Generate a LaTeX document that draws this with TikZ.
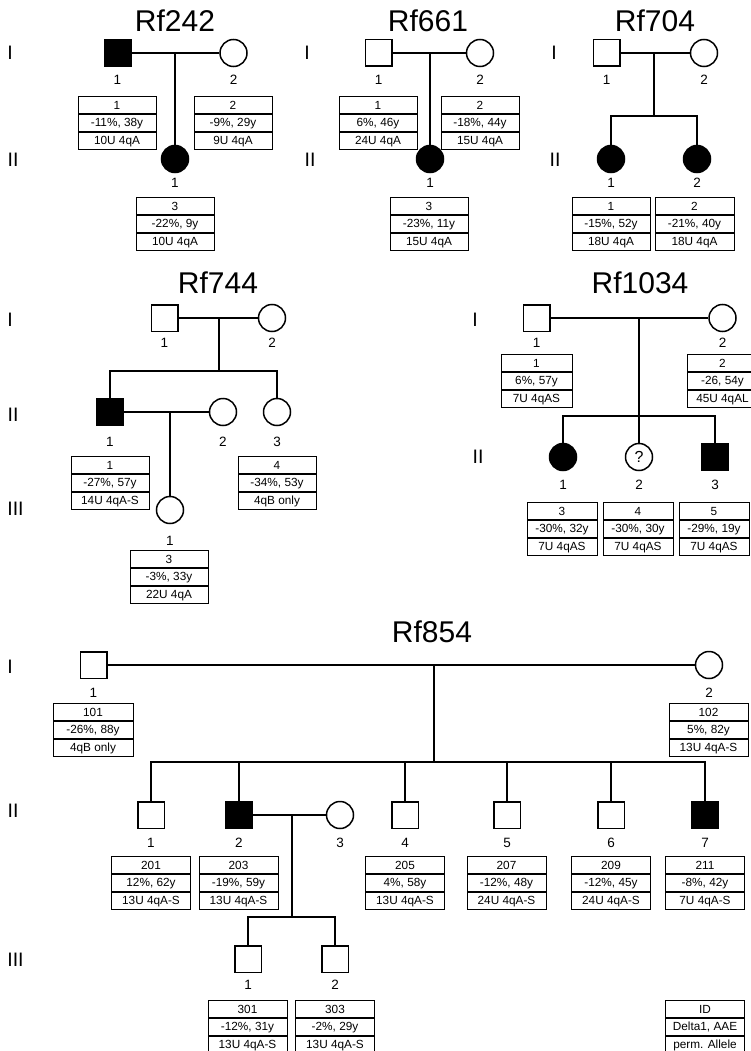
\documentclass[tikz,border=0pt]{standalone}
\usepackage{fontspec}
\setmainfont{Liberation Sans}
\newcommand{\infotab}[7]{%
  \node[tabcell, minimum width=#4pt, anchor=north] (#1a) at (#2,#3) {#5};
  \node[tabcell, minimum width=#4pt, anchor=north] (#1b) at (#1a.south) {#6};
  \node[tabcell, minimum width=#4pt, anchor=north] (#1c) at (#1b.south) {#7};}
\tikzset{
  male/.style={draw, rectangle, minimum size=26.5pt, inner sep=0pt, line width=1.5pt, fill=white},
  female/.style={draw, circle, minimum size=27pt, inner sep=0pt, line width=1.5pt, fill=white},
  aff/.style={fill=black},
  link/.style={line width=1.7pt},
  tabcell/.style={draw, line width=0.9pt, inner sep=0pt, minimum height=17.2pt, font=\fontsize{11.8}{13}\selectfont},
  title/.style={font=\fontsize{30}{34}\selectfont},
  gen/.style={font=\fontsize{19.5}{22}\selectfont},
  num/.style={font=\fontsize{13.5}{15}\selectfont},
}
\begin{document}
\begin{tikzpicture}[x=1pt,y=-1pt]
\useasboundingbox (0,0) rectangle (750,1051);
\fill[white] (0,0) rectangle (750,1051);

%% ---------------- Rf242 ----------------
\node[title] (t242) at (175,21) {Rf242};
\node[gen] (g242a) at (10,53) {I};
\node[gen] (g242b) at (13,160) {II};
\node[male, aff] (p242a) at (117.5,53) {};
\node[female] (p242b) at (233.5,53) {};
\node[female, aff] (p242c) at (175,159) {};
\coordinate (m242) at (175,53);
\draw[link] (p242a.east) -- (p242b.west);
\draw[link] (m242) -- (p242c.north);
\node[num] (n242a) at (117.5,80) {1};
\node[num] (n242b) at (233.5,80) {2};
\node[num] (n242c) at (175,183) {1};
\infotab{k242a}{117}{96}{78}{1}{-11\%, 38y}{10U 4qA}
\infotab{k242b}{233}{96}{78}{2}{-9\%, 29y}{9U 4qA}
\infotab{k242c}{175}{197}{78}{3}{-22\%, 9y}{10U 4qA}

%% ---------------- Rf661 ----------------
\node[title] (t661) at (428,21) {Rf661};
\node[gen] (g661a) at (307,53) {I};
\node[gen] (g661b) at (310,160) {II};
\node[male] (p661a) at (378.5,53) {};
\node[female] (p661b) at (480,53) {};
\node[female, aff] (p661c) at (430,159) {};
\coordinate (m661) at (430,53);
\draw[link] (p661a.east) -- (p661b.west);
\draw[link] (m661) -- (p661c.north);
\node[num] (n661a) at (378.5,80) {1};
\node[num] (n661b) at (480,80) {2};
\node[num] (n661c) at (430,183) {1};
\infotab{k661a}{378}{96}{78}{1}{6\%, 46y}{24U 4qA}
\infotab{k661b}{480}{96}{78}{2}{-18\%, 44y}{15U 4qA}
\infotab{k661c}{429}{197}{78}{3}{-23\%, 11y}{15U 4qA}

%% ---------------- Rf704 ----------------
\node[title] (t704) at (655,21) {Rf704};
\node[gen] (g704a) at (554,53) {I};
\node[gen] (g704b) at (555,160) {II};
\node[male] (p704a) at (606.5,53) {};
\node[female] (p704b) at (704,53) {};
\node[female, aff] (p704c) at (611,159) {};
\node[female, aff] (p704d) at (697,159) {};
\coordinate (m704) at (654,53);
\coordinate (s704) at (654,116);
\draw[link] (p704a.east) -- (p704b.west);
\draw[link] (m704) -- (s704);
\draw[link] (p704c.north) |- (s704) -| (p704d.north);
\node[num] (n704a) at (606.5,80) {1};
\node[num] (n704b) at (704,80) {2};
\node[num] (n704c) at (611,183) {1};
\node[num] (n704d) at (697,183) {2};
\infotab{k704c}{611}{197}{78}{1}{-15\%, 52y}{18U 4qA}
\infotab{k704d}{694.5}{197}{79}{2}{-21\%, 40y}{18U 4qA}

%% ---------------- Rf744 ----------------
\node[title] (t744) at (218,283) {Rf744};
\node[gen] (g744a) at (10,320) {I};
\node[gen] (g744b) at (13,415) {II};
\node[gen] (g744c) at (15.5,509) {III};
\node[male] (p744a) at (164.5,318) {};
\node[female] (p744b) at (272,318) {};
\node[male, aff] (p744c) at (110,412) {};
\node[female] (p744d) at (223,412) {};
\node[female] (p744e) at (277,412) {};
\node[female] (p744f) at (170,510) {};
\coordinate (m744) at (219,318);
\coordinate (s744) at (219,371);
\coordinate (q744) at (170,412);
\draw[link] (p744a.east) -- (p744b.west);
\draw[link] (m744) -- (s744);
\draw[link] (p744c.north) |- (s744) -| (p744e.north);
\draw[link] (p744c.east) -- (p744d.west);
\draw[link] (q744) -- (p744f.north);
\node[num] (n744a) at (164.5,343) {1};
\node[num] (n744b) at (272,343) {2};
\node[num] (n744c) at (110,442) {1};
\node[num] (n744d) at (223,442) {2};
\node[num] (n744e) at (277,442) {3};
\node[num] (n744f) at (170,541) {1};
\infotab{k744c}{110}{456}{78}{1}{-27\%, 57y}{14U 4qA-S}
\infotab{k744e}{277}{456}{78}{4}{-34\%, 53y}{4qB only}
\infotab{k744f}{169}{550}{78}{3}{-3\%, 33y}{22U 4qA}

%% ---------------- Rf1034 ----------------
\node[title] (t1034) at (640,283) {Rf1034};
\node[gen] (g1034a) at (475,320) {I};
\node[gen] (g1034b) at (478,457) {II};
\node[male] (p1034a) at (536.5,318) {};
\node[female] (p1034b) at (722.5,318) {};
\node[female, aff] (p1034c) at (563,457) {};
\node[female, font=\fontsize{16}{18}\selectfont] (p1034d) at (639,457) {?};
\node[male, aff] (p1034e) at (715,457) {};
\coordinate (m1034) at (639,318);
\coordinate (s1034) at (639,416);
\draw[link] (p1034a.east) -- (p1034b.west);
\draw[link] (p1034c.north) |- (s1034) -| (p1034e.north);
\draw[link] (m1034) -- (p1034d.north);
\node[num] (n1034a) at (536.5,343) {1};
\node[num] (n1034b) at (722.5,343) {2};
\node[num] (n1034c) at (563,485) {1};
\node[num] (n1034d) at (639,485) {2};
\node[num] (n1034e) at (715,485) {3};
\infotab{k1034a}{536.5}{354}{71}{1}{6\%, 57y}{7U 4qAS}
\infotab{k1034b}{722.5}{354}{71}{2}{-26, 54y}{45U 4qAL}
\infotab{k1034c}{562}{502}{70}{3}{-30\%, 32y}{7U 4qAS}
\infotab{k1034d}{638}{502}{70}{4}{-30\%, 30y}{7U 4qAS}
\infotab{k1034e}{714}{502}{70}{5}{-29\%, 19y}{7U 4qAS}

%% ---------------- Rf854 ----------------
\node[title] (t854) at (432,632) {Rf854};
\node[gen] (g854a) at (10,667) {I};
\node[gen] (g854b) at (13,811) {II};
\node[gen] (g854c) at (15.5,960) {III};
\node[male] (p854a) at (93.5,665) {};
\node[female] (p854b) at (709,665) {};
\node[male] (q1) at (151,815) {};
\node[male, aff] (q2) at (239,815) {};
\node[female] (q3) at (340,815) {};
\node[male] (q4) at (405,815) {};
\node[male] (q5) at (507,815) {};
\node[male] (q6) at (611,815) {};
\node[male, aff] (q7) at (705,815) {};
\node[male] (r1) at (248,959) {};
\node[male] (r2) at (335,959) {};
\coordinate (m854) at (434,665);
\coordinate (s854) at (434,762);
\coordinate (u854) at (292,815);
\coordinate (v854) at (292,917);
\draw[link] (p854a.east) -- (p854b.west);
\draw[link] (m854) -- (s854);
\draw[link] (q1.north) |- (s854) -| (q7.north);
\draw[link] (q2.north) -- (q2.north |- s854);
\draw[link] (q4.north) -- (q4.north |- s854);
\draw[link] (q5.north) -- (q5.north |- s854);
\draw[link] (q6.north) -- (q6.north |- s854);
\draw[link] (q2.east) -- (q3.west);
\draw[link] (u854) -- (v854);
\draw[link] (r1.north) |- (v854) -| (r2.north);
\node[num] (n854a) at (93.5,693) {1};
\node[num] (n854b) at (709,693) {2};
\node[num] (nq1) at (151,843) {1};
\node[num] (nq2) at (239,843) {2};
\node[num] (nq3) at (340,843) {3};
\node[num] (nq4) at (405,843) {4};
\node[num] (nq5) at (507,843) {5};
\node[num] (nq6) at (611,843) {6};
\node[num] (nq7) at (705,843) {7};
\node[num] (nr1) at (248,985) {1};
\node[num] (nr2) at (335,985) {2};
\infotab{k854a}{93}{703}{80}{101}{-26\%, 88y}{4qB only}
\infotab{k854b}{708.5}{703}{79}{102}{5\%, 82y}{13U 4qA-S}
\infotab{kq1}{151}{856}{79}{201}{12\%, 62y}{13U 4qA-S}
\infotab{kq2}{238.5}{856}{79}{203}{-19\%, 59y}{13U 4qA-S}
\infotab{kq4}{405}{856}{79}{205}{4\%, 58y}{13U 4qA-S}
\infotab{kq5}{506.5}{856}{79}{207}{-12\%, 48y}{24U 4qA-S}
\infotab{kq6}{611}{856}{79}{209}{-12\%, 45y}{24U 4qA-S}
\infotab{kq7}{705}{856}{79}{211}{-8\%, 42y}{7U 4qA-S}
\infotab{kr1}{247.5}{1000}{79}{301}{-12\%, 31y}{13U 4qA-S}
\infotab{kr2}{335}{1000}{79}{303}{-2\%, 29y}{13U 4qA-S}
\infotab{key}{705}{1000}{79}{ID}{Delta1, AAE}{perm. Allele}
\end{tikzpicture}
\end{document}
